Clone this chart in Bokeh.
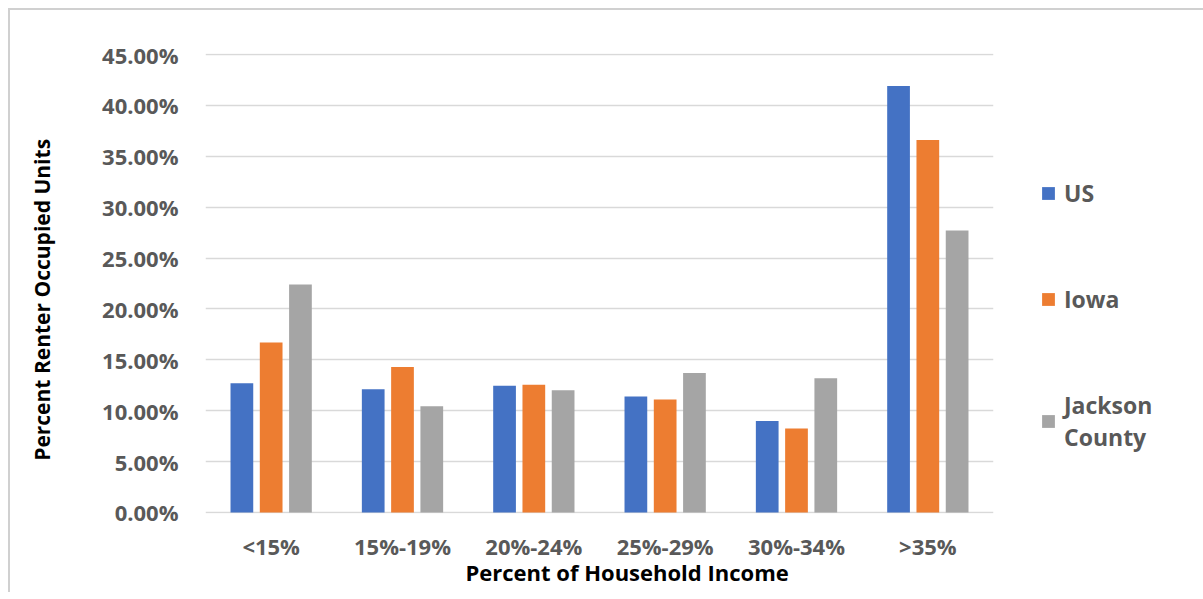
from bokeh.plotting import figure
from bokeh.models import (ColumnDataSource, FactorRange, Range1d, NumeralTickFormatter,
                          FixedTicker, Legend, LegendItem, Title)
from bokeh.transform import dodge
from bokeh.embed import file_html
from bokeh.resources import INLINE

categories = ["<15%", "15%-19%", "20%-24%", "25%-29%", "30%-34%", ">35%"]
us = [12.7, 12.1, 12.45, 11.4, 9.0, 41.9]
iowa = [16.7, 14.3, 12.55, 11.1, 8.25, 36.6]
jackson = [22.4, 10.45, 12.0, 13.7, 13.2, 27.7]
series_names = ["US", "Iowa", "Jackson\nCounty"]
colors = ["#4472C4", "#ED7D31", "#A5A5A5"]
y_ticks = [0.0, 0.05, 0.10, 0.15, 0.20, 0.25, 0.30, 0.35, 0.40, 0.45]

source = ColumnDataSource(data=dict(
    cat=categories,
    us=[v / 100 for v in us],
    iowa=[v / 100 for v in iowa],
    jackson=[v / 100 for v in jackson],
))

FONT = "Open Sans"

p = figure(frame_width=788, frame_height=460, x_range=FactorRange(*categories, range_padding=0),
           y_range=Range1d(-0.001, 0.451), output_backend="svg", toolbar_location=None,
           min_border_left=195, min_border_right=202, min_border_top=43, min_border_bottom=79)
p.styles = {"margin-left": "8px", "margin-top": "8px",
            "border-top": "2px solid #d0d0d0", "border-left": "2px solid #d0d0d0"}
p.outline_line_color = None
p.background_fill_color = "white"
p.border_fill_color = "white"

renderers = []
for key, off, col in zip(["us", "iowa", "jackson"], [-0.223, 0.0, 0.223], colors):
    r = p.vbar(x=dodge("cat", off, range=p.x_range), top=key, bottom=0, width=0.173,
               source=source, fill_color=col, line_color=None)
    renderers.append(r)

p.xgrid.grid_line_color = None
p.ygrid.grid_line_color = "#d9d9d9"
p.ygrid.grid_line_width = 1.6
p.yaxis.ticker = FixedTicker(ticks=y_ticks)
p.yaxis.formatter = NumeralTickFormatter(format="0.00%")

for ax in (p.xaxis[0], p.yaxis[0]):
    ax.axis_line_color = None
    ax.major_tick_line_color = None
    ax.minor_tick_line_color = None
    ax.major_label_text_font = FONT
    ax.major_label_text_font_size = "22px"
    ax.major_label_text_font_style = "bold"
    ax.major_label_text_color = "#595959"
p.yaxis.major_label_standoff = 21
p.xaxis.major_label_standoff = 11

# y-axis title (trailing no-break spaces shift the visible text down, as in the original)
p.yaxis.axis_label = "Percent Renter Occupied Units" + "\u00a0" * 6
p.yaxis.axis_label_standoff = 43
p.yaxis.axis_label_text_font = FONT
p.yaxis.axis_label_text_font_size = "21px"
p.yaxis.axis_label_text_font_style = "bold"
p.yaxis.axis_label_text_color = "#000000"

p.add_layout(Title(text="Percent of Household Income", align="left", offset=260, standoff=-18,
                   text_font=FONT, text_font_size="22px", text_font_style="bold",
                   text_color="#000000"), "below")

legend = Legend(items=[LegendItem(label=n, renderers=[r]) for n, r in zip(series_names, renderers)],
                location=(47, 60), orientation="vertical", glyph_width=16, glyph_height=16,
                label_text_font=FONT, label_text_font_size="23px", label_text_font_style="bold",
                label_text_color="#595959", label_standoff=8, spacing=74, padding=0, margin=0,
                border_line_color=None, background_fill_alpha=0)
p.add_layout(legend, "right")

open("out.html", "w").write(file_html(p, INLINE))
